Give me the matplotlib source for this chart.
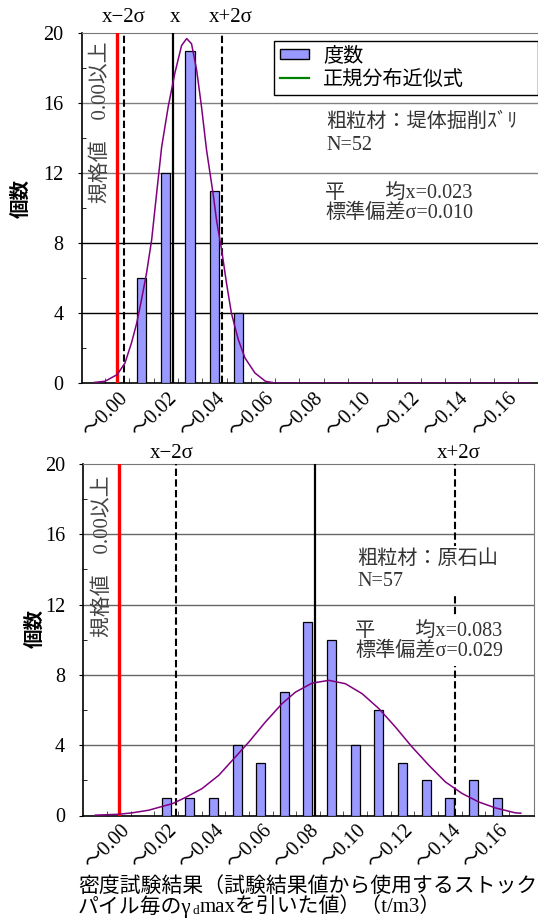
import matplotlib
matplotlib.use('Agg')
import matplotlib.pyplot as plt
from matplotlib.patches import Patch
from matplotlib.lines import Line2D
from matplotlib.transforms import ScaledTranslation

# ---- dados ----
x_ticks = [0.00, 0.02, 0.04, 0.06, 0.08, 0.10, 0.12, 0.14, 0.16]
x_tick_labels = ['～0.00', '～0.02', '～0.04', '～0.06', '～0.08',
                 '～0.10', '～0.12', '～0.14', '～0.16']
spec_value = 0.00

# 粗粒材：堤体掘削ｽﾞﾘ
top_bins = [0.01, 0.02, 0.03, 0.04, 0.05]
top_counts = [6, 12, 19, 11, 4]
top_mean, top_lo, top_hi = 0.023, 0.003, 0.043
top_curve_x = [-0.0095, -0.005, 0.0, 0.0032, 0.0059, 0.008, 0.010, 0.0121, 0.0142,
               0.0155, 0.0183, 0.021, 0.0237, 0.0265, 0.0286, 0.0306, 0.0327,
               0.0347, 0.0368, 0.0395, 0.0409, 0.043, 0.045, 0.047, 0.0498,
               0.0526, 0.0567, 0.061, 0.065, 0.17]
top_curve_y = [0.03, 0.1, 0.48, 1.14, 2.3, 3.4, 4.76, 6.3, 8.2,
               9.9, 13.5, 15.8, 17.7, 19.3, 19.7, 19.4, 17.9,
               15.8, 13.3, 10.8, 9.3, 7.6, 5.7, 4.0, 2.5,
               1.43, 0.57, 0.1, 0.0, 0.0]

# 粗粒材：原石山
bot_bins = [0.02, 0.03, 0.04, 0.05, 0.06, 0.07, 0.08, 0.09,
            0.10, 0.11, 0.12, 0.13, 0.14, 0.15, 0.16]
bot_counts = [1, 1, 1, 4, 3, 7, 11, 10, 4, 6, 3, 2, 1, 2, 1]
bot_mean, bot_lo, bot_hi = 0.083, 0.024, 0.142
bot_curve_x = [-0.0099, 0.0, 0.0056, 0.0126, 0.0228, 0.0281, 0.0352, 0.0423,
               0.0493, 0.055, 0.062, 0.069, 0.0747, 0.0817, 0.0888, 0.0958,
               0.1029, 0.110, 0.117, 0.124, 0.1311, 0.1381, 0.1452, 0.1522,
               0.1593, 0.1677, 0.170]
bot_curve_y = [0.02, 0.07, 0.15, 0.3, 0.68, 1.02, 1.53, 2.29,
               3.33, 4.18, 5.32, 6.36, 7.02, 7.53, 7.69, 7.5,
               6.93, 6.08, 5.03, 3.9, 2.86, 1.91, 1.25, 0.77,
               0.43, 0.15, 0.13]

W, H = 538, 918
JP = ['Liberation Serif', 'Noto Sans CJK JP']
BAR = '#9999FF'
CURVE = '#800080'

fig = plt.figure(figsize=(W / 100, H / 100), dpi=100)


def fx(x):
    return x / W


def fy(y):
    return 1 - y / H


def add_panel(left, right, top, bottom, xlim, bins, counts, cx, cy,
              mean, lo, hi, grid_colors):
    ax = fig.add_axes([fx(left), fy(bottom), (right - left) / W, (bottom - top) / H])
    ax.set_xlim(*xlim)
    ax.set_ylim(0, 20)
    for v, c in zip([4, 8, 12, 16], grid_colors):
        ax.axhline(v, color=c, lw=1.0, zorder=1)
    ax.bar(bins, counts, width=0.0038, color=BAR, edgecolor='black', linewidth=0.9, zorder=3)
    ax.plot(cx, cy, color=CURVE, lw=1.1, zorder=6)
    ax.axvline(spec_value, color='#FF0000', lw=2.4, zorder=5)
    ax.axvline(mean, color='black', lw=1.6, zorder=5)
    for v in (lo, hi):
        ax.axvline(v, color='black', lw=1.5, ls=(0, (3.5, 1.6)), zorder=5)

    ax.set_yticks([0, 4, 8, 12, 16, 20])
    ax.set_yticks([2, 6, 10, 14, 18], minor=True)
    ax.tick_params(axis='y', which='major', direction='out', length=3, pad=10, labelsize=14.5)
    ax.tick_params(axis='y', which='minor', direction='in', length=3)
    ax.set_xticks(x_ticks)
    ax.set_xticklabels(x_tick_labels, rotation=45, ha='right', va='center',
                       rotation_mode='anchor', fontsize=14.5, family=JP)
    ax.set_xticks([-0.005 + 0.01 * i for i in range(18)], minor=True)
    ax.tick_params(axis='x', which='major', length=0, pad=9)
    ax.tick_params(axis='x', which='minor', direction='in', length=3.5, color='#333333')
    shift = ScaledTranslation(8 / 100, 0, fig.dpi_scale_trans)
    for lab in ax.get_xticklabels():
        lab.set_transform(lab.get_transform() + shift)
    for lab in ax.get_yticklabels():
        lab.set_family('Liberation Serif')
    ax.spines['top'].set_color('#777777')
    ax.spines['right'].set_color('#777777')
    ax.spines['left'].set_linewidth(1.2)
    ax.spines['bottom'].set_linewidth(1.2)
    return ax


ax1 = add_panel(81.7, 543.4, 33.3, 383.0, (-0.0146, 0.1754), top_bins, top_counts,
                top_curve_x, top_curve_y, top_mean, top_lo, top_hi,
                ['black', 'black', '#808080', '#808080'])
ax2 = add_panel(83.3, 533.6, 464.0, 815.5, (-0.015, 0.1754), bot_bins, bot_counts,
                bot_curve_x, bot_curve_y, bot_mean, bot_lo, bot_hi,
                ['#666666'] * 4)

# legenda
handles = [Patch(facecolor=BAR, edgecolor='black', linewidth=1.0),
           Line2D([0], [0], color='#008000', lw=1.6)]
fig.legend(handles, ['度数', '正規分布近似式'], loc='upper left',
           bbox_to_anchor=(fx(274), fy(41), 264 / W, 0), mode='expand',
           bbox_transform=fig.transFigure, borderaxespad=0,
           prop={'family': JP, 'size': 14.5}, frameon=True, fancybox=False,
           edgecolor='black', framealpha=1, handlelength=1.45, handleheight=0.4,
           handletextpad=0.7, borderpad=0.3, labelspacing=0.2)


def txt(x, y, s, **kw):
    kw.setdefault('family', JP)
    kw.setdefault('va', 'center')
    return fig.text(fx(x), fy(y), s, **kw)


# rótulos das linhas
for x, y, s in [(124, 18, 'x−2σ'), (175, 18, 'x'), (231, 18, 'x+2σ'),
                (172, 453, 'x−2σ'), (459, 453, 'x+2σ')]:
    txt(x, y, s, ha='center', size=15)

# eixo y
txt(21, 198, '個数', ha='center', size=14, rotation=90, weight='bold')
txt(35, 628, '個数', ha='center', size=14, rotation=90, weight='bold')

# valor normativo
txt(101, 122, '規格値　0.00以上', ha='center', size=15, rotation=90, color='#444444')
txt(103, 556, '規格値　0.00以上', ha='center', size=15, rotation=90, color='#444444')

# estatísticas (caixas brancas por cima das linhas)
c_txt = '#333333'
box = dict(facecolor='white', edgecolor='none', pad=3)
txt(326, 134, '粗粒材：堤体掘削ｽﾞﾘ\nN=52', size=14.5, color=c_txt,
    linespacing=1.25, bbox=box)
txt(325, 203.5, '平　　均x=0.023\n標準偏差σ=0.010', size=14.5, color=c_txt,
    linespacing=1.1, bbox=box)
txt(357, 570.5, '粗粒材：原石山\nN=57', size=14.5, color=c_txt,
    linespacing=1.25, bbox=box)
txt(355, 641.5, '平　　均x=0.083\n標準偏差σ=0.029', size=14.5, color=c_txt,
    linespacing=1.1, bbox=box)

# título do eixo x (com subscrito d)
txt(78, 887, '密度試験結果（試験結果値から使用するストック', size=15)
renderer = fig.canvas.get_renderer()
t = txt(78, 907, 'パイル毎のγ', size=15)
x_end = t.get_window_extent(renderer).x1
t = fig.text(x_end / fig.dpi / fig.get_figwidth() + 0.002, fy(911), 'd',
             family=JP, size=9.5, va='center')
x_end = t.get_window_extent(renderer).x1
fig.text(x_end / fig.dpi / fig.get_figwidth(), fy(907), 'maxを引いた値）（t/m3）',
         family=JP, size=15, va='center')

fig.savefig('out.png', dpi=100)
